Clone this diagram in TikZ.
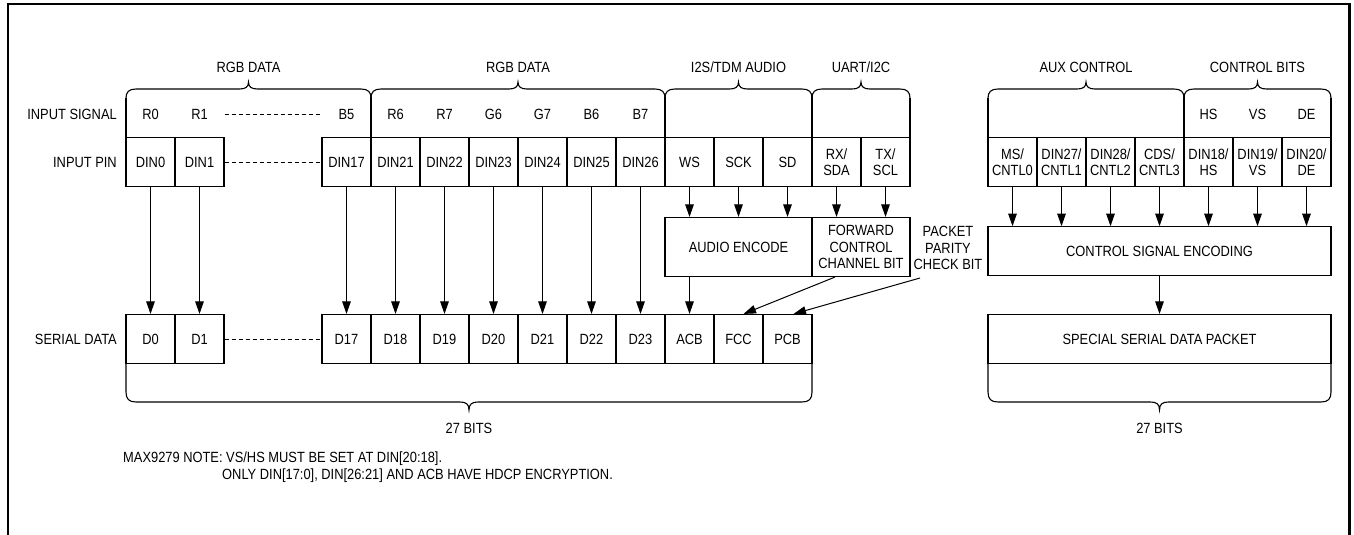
\documentclass[tikz,border=0pt]{standalone}
\usepackage{fontspec}
\setmainfont{Liberation Sans}[FakeStretch=0.87]
\usetikzlibrary{arrows.meta}
\tikzset{
  lab/.style={font=\fontsize{14.8}{15.5}\selectfont, inner sep=0pt, align=center},
  notetext/.style={font=\fontsize{14.8}{16}\selectfont, inner sep=0pt, anchor=base west},
  cell/.style={draw, line width=1.1pt, minimum width=49pt, minimum height=49pt, inner sep=0pt, lab},
  bigbox/.style={draw, line width=1.1pt, inner sep=0pt, lab},
  arr/.style={line width=1pt, -{Triangle[length=12.5pt,width=8.5pt]}},
  bline/.style={line width=1.1pt},
  sepline/.style={line width=1.8pt},
  dash line/.style={line width=0.8pt, dash pattern=on 4pt off 3pt},
  frame/.style={line width=2.2pt}
}
\newcommand\mybraceT[2]{%
  \pgfmathsetmacro\mam{(#1+#2)/2}%
  \draw[bline] (#1,98) .. controls (#1,92) and (#1+3,89) .. (#1+10,89)
    -- (\mam-9,89) .. controls (\mam-3,89) and (\mam,87) .. (\mam,82)
    .. controls (\mam,87) and (\mam+3,89) .. (\mam+9,89)
    -- (#2-10,89) .. controls (#2-3,89) and (#2,92) .. (#2,98);}
\newcommand\mybraceB[2]{%
  \pgfmathsetmacro\mam{(#1+#2)/2}%
  \draw[bline] (#1,363.5) -- (#1,392) .. controls (#1,399) and (#1+3,402) .. (#1+10,402)
    -- (\mam-9,402) .. controls (\mam-3,402) and (\mam,404) .. (\mam,410)
    .. controls (\mam,404) and (\mam+3,402) .. (\mam+9,402)
    -- (#2-10,402) .. controls (#2-3,402) and (#2,399) .. (#2,392) -- (#2,363.5);}
\begin{document}
\begin{tikzpicture}[x=1pt,y=-1pt]
\useasboundingbox (0,0) rectangle (1354,535);
% frame
\draw[frame] (7.7,536) -- (7.7,3.7) -- (1349.5,3.7) -- (1349.5,536);

% row labels
\node[lab, anchor=east] (lsig) at (117,114) {INPUT SIGNAL};
\node[lab, anchor=east] (lpin) at (117,162) {INPUT PIN};
\node[lab, anchor=east] (lser) at (117,339) {SERIAL DATA};

% brace labels
\node[lab] (g1) at (248.5,67) {RGB DATA};
\node[lab] (g2) at (518,67) {RGB DATA};
\node[lab] (g3) at (738.5,67) {I2S/TDM AUDIO};
\node[lab] (g4) at (861,67) {UART/I2C};
\node[lab] (g5) at (1086,67) {AUX CONTROL};
\node[lab] (g6) at (1257.5,67) {CONTROL BITS};

% top braces
\mybraceT{126}{371}
\mybraceT{371}{665}
\mybraceT{665}{812}
\mybraceT{812}{910}
\mybraceT{988}{1184}
\mybraceT{1184}{1331}
\draw[bline] (126,98) -- (126,137.5);
\draw[bline] (910,98) -- (910,137.5);
\draw[bline] (988,98) -- (988,137.5);
\draw[bline] (1331,98) -- (1331,137.5);
\draw[sepline] (371,97) -- (371,137.5);
\draw[sepline] (665,97) -- (665,137.5);
\draw[sepline] (812,97) -- (812,137.5);
\draw[sepline] (1184,97) -- (1184,137.5);

% input signals
\foreach \k/\t in {0/R0,1/R1,4/B5,5/R6,6/R7,7/G6,8/G7,9/B6,10/B7}
  \node[lab] (i\k) at ({150.5+49*\k},114) {\t};
\node[lab] (hs) at (1208.5,114) {HS};
\node[lab] (vs) at (1257.5,114) {VS};
\node[lab] (de) at (1306.5,114) {DE};

% input pins
\foreach \k/\t in {0/DIN0,1/DIN1,4/DIN17,5/DIN21,6/DIN22,7/DIN23,8/DIN24,9/DIN25,10/DIN26,11/WS,12/SCK,13/SD}
  \node[cell] (p\k) at ({150.5+49*\k},162) {\t};
\node[cell] (p14) at (836.5,162) {RX/\\SDA};
\node[cell] (p15) at (885.5,162) {TX/\\SCL};

% right cells
\node[cell] (c0) at (1012.5,162) {MS/\\CNTL0};
\node[cell] (c1) at (1061.5,162) {DIN27/\\CNTL1};
\node[cell] (c2) at (1110.5,162) {DIN28/\\CNTL2};
\node[cell] (c3) at (1159.5,162) {CDS/\\CNTL3};
\node[cell] (c4) at (1208.5,162) {DIN18/\\HS};
\node[cell] (c5) at (1257.5,162) {DIN19/\\VS};
\node[cell] (c6) at (1306.5,162) {DIN20/\\DE};

% serial data
\foreach \k/\t in {0/D0,1/D1,4/D17,5/D18,6/D19,7/D20,8/D21,9/D22,10/D23,11/ACB,12/FCC,13/PCB}
  \node[cell] (s\k) at ({150.5+49*\k},339) {\t};

% dashed continuation
\draw[dash line] (p1.east |- i1) -- (p4.west |- i4);
\draw[dash line] (p1.east) -- (p4.west);
\draw[dash line] (s1.east) -- (s4.west);

% encoders
\node[bigbox, minimum width=147pt, minimum height=59pt] (aenc) at (738.5,247) {AUDIO ENCODE};
\node[bigbox, minimum width=98pt, minimum height=59pt, font=\fontsize{14.8}{16.3}\selectfont] (fwd) at (861,247) {FORWARD\\CONTROL\\CHANNEL BIT};
\node[lab, font=\fontsize{14.8}{16.3}\selectfont] (ppcb) at (948,248) {PACKET\\PARITY\\CHECK BIT};
\coordinate (pstart) at (920,278);

\node[bigbox, minimum width=343pt, minimum height=48.5pt] (cse) at (1159.5,251) {CONTROL SIGNAL ENCODING};
\node[bigbox, minimum width=343pt, minimum height=49pt] (ssp) at (1159.5,339) {SPECIAL SERIAL DATA PACKET};

% arrows
\foreach \k in {0,1,4,5,6,7,8,9,10}
  \draw[arr] (p\k.south) -- (s\k.north);
\foreach \k in {11,12,13}
  \draw[arr] (p\k.south) -- (p\k.south |- aenc.north);
\foreach \k in {14,15}
  \draw[arr] (p\k.south) -- (p\k.south |- fwd.north);
\draw[arr] (p11.south |- aenc.south) -- (s11.north);
\draw[arr] ([xshift=-26pt]fwd.south) -- ([xshift=5pt]s12.north);
\draw[arr] (pstart) -- ([xshift=6pt]s13.north);
\foreach \k in {0,...,6}
  \draw[arr] (c\k.south) -- (c\k.south |- cse.north);
\draw[arr] (cse.south) -- (ssp.north);

% bottom braces
\mybraceB{126}{812}
\mybraceB{988}{1331}
\node[lab] (b1) at (469,428) {27 BITS};
\node[lab] (b2) at (1159.5,428) {27 BITS};

% notes
\node[notetext] (n1) at (123,462) {MAX9279 NOTE: VS/HS MUST BE SET AT DIN[20:18].};
\node[notetext] (n2) at (222,479) {ONLY DIN[17:0], DIN[26:21] AND ACB HAVE HDCP ENCRYPTION.};
\end{tikzpicture}
\end{document}
